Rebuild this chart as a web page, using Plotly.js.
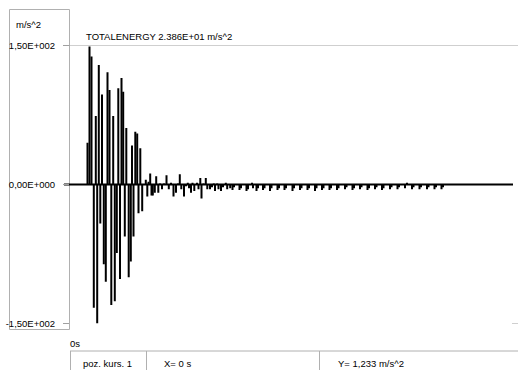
<!DOCTYPE html>
<html>
<head>
<meta charset="utf-8">
<script src="https://cdn.plot.ly/plotly-3.0.1.min.js"></script>
<style>
  html, body { margin: 0; padding: 0; background: #ffffff; }
  #chart { width: 518px; height: 370px; }
</style>
</head>
<body>
<div id="chart"></div>
<script>
// Acceleration record: sample time [s] and acceleration [m/s^2]
const timeS = [
  0.175, 0.195, 0.215, 0.238, 0.258, 0.272, 0.288, 0.303, 0.320, 0.338,
  0.358, 0.375, 0.395, 0.413, 0.432, 0.448, 0.468, 0.483, 0.500, 0.515,
  0.532, 0.548, 0.563, 0.587, 0.608, 0.620, 0.635, 0.653, 0.672, 0.685,
  0.703, 0.722, 0.758, 0.773, 0.785, 0.802, 0.815, 0.828, 0.848, 0.862,
  0.883, 0.900, 0.920, 0.940, 0.965, 0.988, 1.010, 1.035, 1.060, 1.080,
  1.098, 1.113, 1.140, 1.160, 1.178, 1.190, 1.210, 1.225, 1.243, 1.270,
  1.285, 1.303, 1.315, 1.335, 1.358, 1.373, 1.400, 1.420, 1.438, 1.450,
  1.472, 1.485, 1.510, 1.530, 1.558, 1.572, 1.602, 1.625, 1.640, 1.695,
  1.710, 1.765, 1.780, 1.820, 1.830, 1.865, 1.880, 1.930, 1.945, 2.000,
  2.015, 2.075, 2.090, 2.145, 2.160, 2.225, 2.240, 2.300, 2.315, 2.375,
  2.390, 2.450, 2.465, 2.520, 2.535, 2.595, 2.610, 2.670, 2.685, 2.750,
  2.765, 2.825, 2.840, 2.900, 2.915, 2.975, 2.990, 3.050, 3.065, 3.120,
  3.135, 3.200, 3.215, 3.275, 3.290, 3.350, 3.370, 3.420, 3.435, 3.495,
  3.510, 3.570, 3.585, 3.645, 3.660, 3.715, 3.730
];
const accel = [
   45, 149, 138, -133,  74, -150, 129, -42,  97, -86,
 -105, 121, 102, -130,  74, -126, -74, 104, -102, 115,
  100, -56,  61, -100, -83,  42, -56,  57,  55, -31,
   39, -29,   5, -13,   3,  12, -12, -12,  -9,   9,
   -9,   1,  -5,   1,  10,  -5,   2, -13,  -9,   1,
   11,  -5, -13,  -2,   2,  -4,  -9,   2,  -7,   2,
   -5,   7, -15,   1,   7,  -5,  -5,  -3,   1,  -7,
    1,  -5,  -7,  -3,   2,  -5,  -4,  -6,  -3,  -6,
   -4,  -7,  -5,   2,  -4,  -7,  -4,  -6,  -4,  -7,
   -4,  -6,  -4,  -6,  -4,  -7,  -4,  -6,  -4,  -6,
   -4,  -7,  -4,  -6,  -4,  -6,  -4,  -6,  -4,  -5,
   -3,  -6,  -4,  -5,  -3,  -6,  -4,  -5,  -3,  -6,
   -4,  -5,  -3,  -5,  -3,  -4,   2,  -5,  -3,  -5,
   -3,  -5,  -3,  -5,  -3,  -5,  -3
];
const yTickVals = [-150, 0, 150];
const yTickText = ['-1,50E+002', '0,00E+000', '1,50E+002'];

const W = 518, H = 370;
const px = v => v / W;          // horizontal pixel -> paper fraction
const py = v => (H - v) / H;    // vertical pixel (from top) -> paper fraction
const FONT = 'Liberation Sans, Arial, sans-serif';
const FSIZE = 9.5;
const GREY = '#b0b0b0';

const trace = {
  type: 'bar',
  x: timeS,
  y: accel,
  width: 0.02,
  marker: { color: '#000000', line: { width: 0 } },
  hoverinfo: 'skip'
};

function label(text, x, y) {
  return {
    text: text, xref: 'paper', yref: 'paper', x: px(x), y: py(y),
    xanchor: 'left', yanchor: 'middle', showarrow: false,
    font: { family: FONT, size: FSIZE, color: '#000000' }
  };
}
function hline(x0, x1, y, color, width) {
  return { type: 'line', xref: 'paper', yref: 'paper', x0: px(x0), x1: px(x1),
           y0: py(y), y1: py(y), line: { color: color, width: width || 1 } };
}
function vline(x, y0, y1, color) {
  return { type: 'line', xref: 'paper', yref: 'paper', x0: px(x), x1: px(x),
           y0: py(y0), y1: py(y1), line: { color: color, width: 1 } };
}

const layout = {
  width: W, height: H,
  margin: { l: 0, r: 0, t: 0, b: 0 },
  paper_bgcolor: '#ffffff',
  plot_bgcolor: 'rgba(0,0,0,0)',
  showlegend: false,
  barmode: 'overlay',
  xaxis: {
    domain: [px(70), 1], range: [0, 4.48],
    showgrid: false, zeroline: false, showline: false,
    showticklabels: false, ticks: '', fixedrange: true
  },
  yaxis: {
    domain: [py(323.5), py(45.5)], range: [-150, 150],
    tickvals: yTickVals, ticktext: yTickText,
    ticks: 'outside', ticklen: 6, tickcolor: '#a0a0a0', tickwidth: 1,
    ticklabelstandoff: 6,
    tickfont: { family: FONT, size: FSIZE, color: '#000000' },
    showgrid: false, zeroline: false, showline: false, fixedrange: true
  },
  shapes: [
    // left scale panel
    { type: 'rect', xref: 'paper', yref: 'paper',
      x0: px(9.5), x1: px(69.5), y0: py(329.5), y1: py(9.5),
      line: { color: GREY, width: 1 }, layer: 'below' },
    // upper limit line
    { type: 'line', xref: 'paper', yref: 'y', x0: px(63), x1: 1, y0: 150, y1: 150,
      line: { color: '#a0a0a0', width: 1 }, layer: 'below' },
    // zero line
    { type: 'line', xref: 'paper', yref: 'y', x0: px(64), x1: px(513), y0: 0, y1: 0,
      line: { color: '#000000', width: 2 }, layer: 'below' },
    // right tick at lower limit
    { type: 'line', xref: 'paper', yref: 'y', x0: px(512), x1: 1, y0: -150, y1: -150,
      line: { color: '#a0a0a0', width: 1 } },
    // status bar
    hline(70, 518, 351, GREY),
    vline(70.5, 351, 370, GREY),
    vline(146.5, 351, 370, GREY),
    vline(319.5, 351, 370, GREY)
  ],
  annotations: [
    label('m/s^2', 14, 25),
    label('TOTALENERGY 2.386E+01 m/s^2', 84, 37),
    label('0s', 68, 343),
    label('poz. kurs. 1', 81, 363),
    label('X= 0 s', 162, 363),
    label('Y= 1,233 m/s^2', 336, 363)
  ]
};

Plotly.newPlot('chart', [trace], layout, { staticPlot: true, displayModeBar: false });
</script>
</body>
</html>
